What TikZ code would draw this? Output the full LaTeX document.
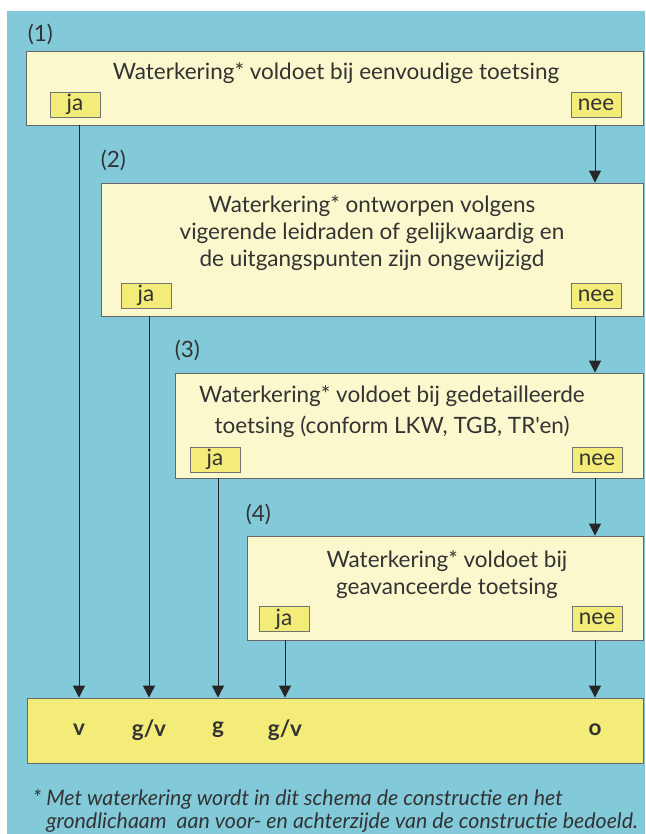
\documentclass[tikz,border=0pt]{standalone}
\usepackage{fontspec}
\setmainfont{Lato}[Ligatures=TeXOff]
\usepackage{tikz}
\usetikzlibrary{positioning,arrows.meta,calc}
\definecolor{panelblue}{HTML}{82CADA}
\definecolor{paleyellow}{HTML}{FBF8CD}
\definecolor{tagyellow}{HTML}{F3EC78}
\definecolor{inkgray}{HTML}{333333}

\begin{document}
\begin{tikzpicture}[x=0.025cm, y=-0.025cm,
    stepBox/.style={rectangle, draw=black!60, fill=paleyellow, line width=0.6pt, inner sep=0pt},
    tagBox/.style={rectangle, draw=black!55, fill=tagyellow, line width=0.5pt, inner sep=0pt, minimum width=1.25cm, minimum height=0.625cm, font=\fontsize{16}{18}\selectfont, text=inkgray},
    questText/.style={align=center, font=\fontsize{16}{19.2}\selectfont, text=inkgray, inner sep=0pt},
    numLabel/.style={font=\fontsize{16}{18}\selectfont, text=inkgray, inner sep=0pt, anchor=south west},
    resLabel/.style={font=\fontsize{16}{18}\selectfont\bfseries, text=inkgray, inner sep=0pt},
    arrowStyle/.style={-{Triangle[width=8.5pt,length=8.5pt]}, line width=0.7pt, draw=black!85}
]
    \useasboundingbox (0,0) rectangle (645,834);
    \fill[white] (0,0) rectangle (645,834);
    \fill[panelblue] (7,11) rectangle (645,834);

    % vier toetsstappen
    \node[stepBox, minimum width=15.4cm, minimum height=1.85cm] (box1) at (335,88) {};
    \node[questText] (q1) at (336,73) {Waterkering* voldoet bij eenvoudige toetsing};
    \node[numLabel] (n1) at ($(box1.north west)+(1,-5)$) {(1)};
    \node[tagBox] (ja1) at (75,104.5) {ja};
    \node[tagBox] (nee1) at (596,104.5) {nee};

    \node[stepBox, minimum width=13.55cm, minimum height=3.325cm] (box2) at (372,249.5) {};
    \node[questText] (q2) at (372,233) {Waterkering* ontworpen volgens\\
        vigerende leidraden of gelijkwaardig en\\
        de uitgangspunten zijn ongewijzigd};
    \node[numLabel] (n2) at ($(box2.north west)+(0,-11)$) {(2)};
    \node[tagBox] (ja2) at (146,295.5) {ja};
    \node[tagBox] (nee2) at (596,295.5) {nee};

    \node[stepBox, minimum width=11.7cm, minimum height=2.625cm] (box3) at (409,425.5) {};
    \node[questText, font=\fontsize{16}{22}\selectfont] (q3) at (392,412) {Waterkering* voldoet bij gedetailleerde\\
        toetsing (conform LKW, TGB, TR'en)};
    \node[numLabel] (n3) at ($(box3.north west)+(0,-11)$) {(3)};
    \node[tagBox] (ja3) at (215,459.5) {ja};
    \node[tagBox] (nee3) at (597,459.5) {nee};

    \node[stepBox, minimum width=9.9cm, minimum height=2.6cm] (box4) at (445,588) {};
    \node[questText] (q4) at (447,575) {Waterkering* voldoet bij\\
        geavanceerde toetsing};
    \node[numLabel] (n4) at ($(box4.north west)+(-1,-10)$) {(4)};
    \node[tagBox] (ja4) at (284,619) {ja};
    \node[tagBox] (nee4) at (597,619) {nee};

    % oordeel
    \node[stepBox, fill=tagyellow, minimum width=15.375cm, minimum height=1.625cm] (result) at (335.5,730.5) {};
    \node[resLabel] (resV) at (79,730) {v};
    \node[resLabel] (resGV1) at (149,730) {g/v};
    \node[resLabel] (resG) at (218,730) {g};
    \node[resLabel] (resGV2) at (285,730) {g/v};
    \node[resLabel] (resO) at (595,730) {o};

    \draw[arrowStyle] (box1.south -| resV) -- (result.north -| resV);
    \draw[arrowStyle] (box2.south -| resGV1) -- (result.north -| resGV1);
    \draw[arrowStyle] (box3.south -| resG) -- (result.north -| resG);
    \draw[arrowStyle] (box4.south -| resGV2) -- (result.north -| resGV2);

    \draw[arrowStyle] (box1.south -| resO) -- (box2.north -| resO);
    \draw[arrowStyle] (box2.south -| resO) -- (box3.north -| resO);
    \draw[arrowStyle] (box3.south -| resO) -- (box4.north -| resO);
    \draw[arrowStyle] (box4.south -| resO) -- (result.north -| resO);

    \node[align=left, anchor=west, font=\fontsize{15.2}{16.4}\selectfont\itshape, text=inkgray, inner sep=0pt] (note) at (46,810.5)
        {\llap{*\ }Met waterkering wordt in dit schema de constructie en het\\
        grondlichaam\ \ aan voor- en achterzijde van de constructie bedoeld.};
\end{tikzpicture}
\end{document}
